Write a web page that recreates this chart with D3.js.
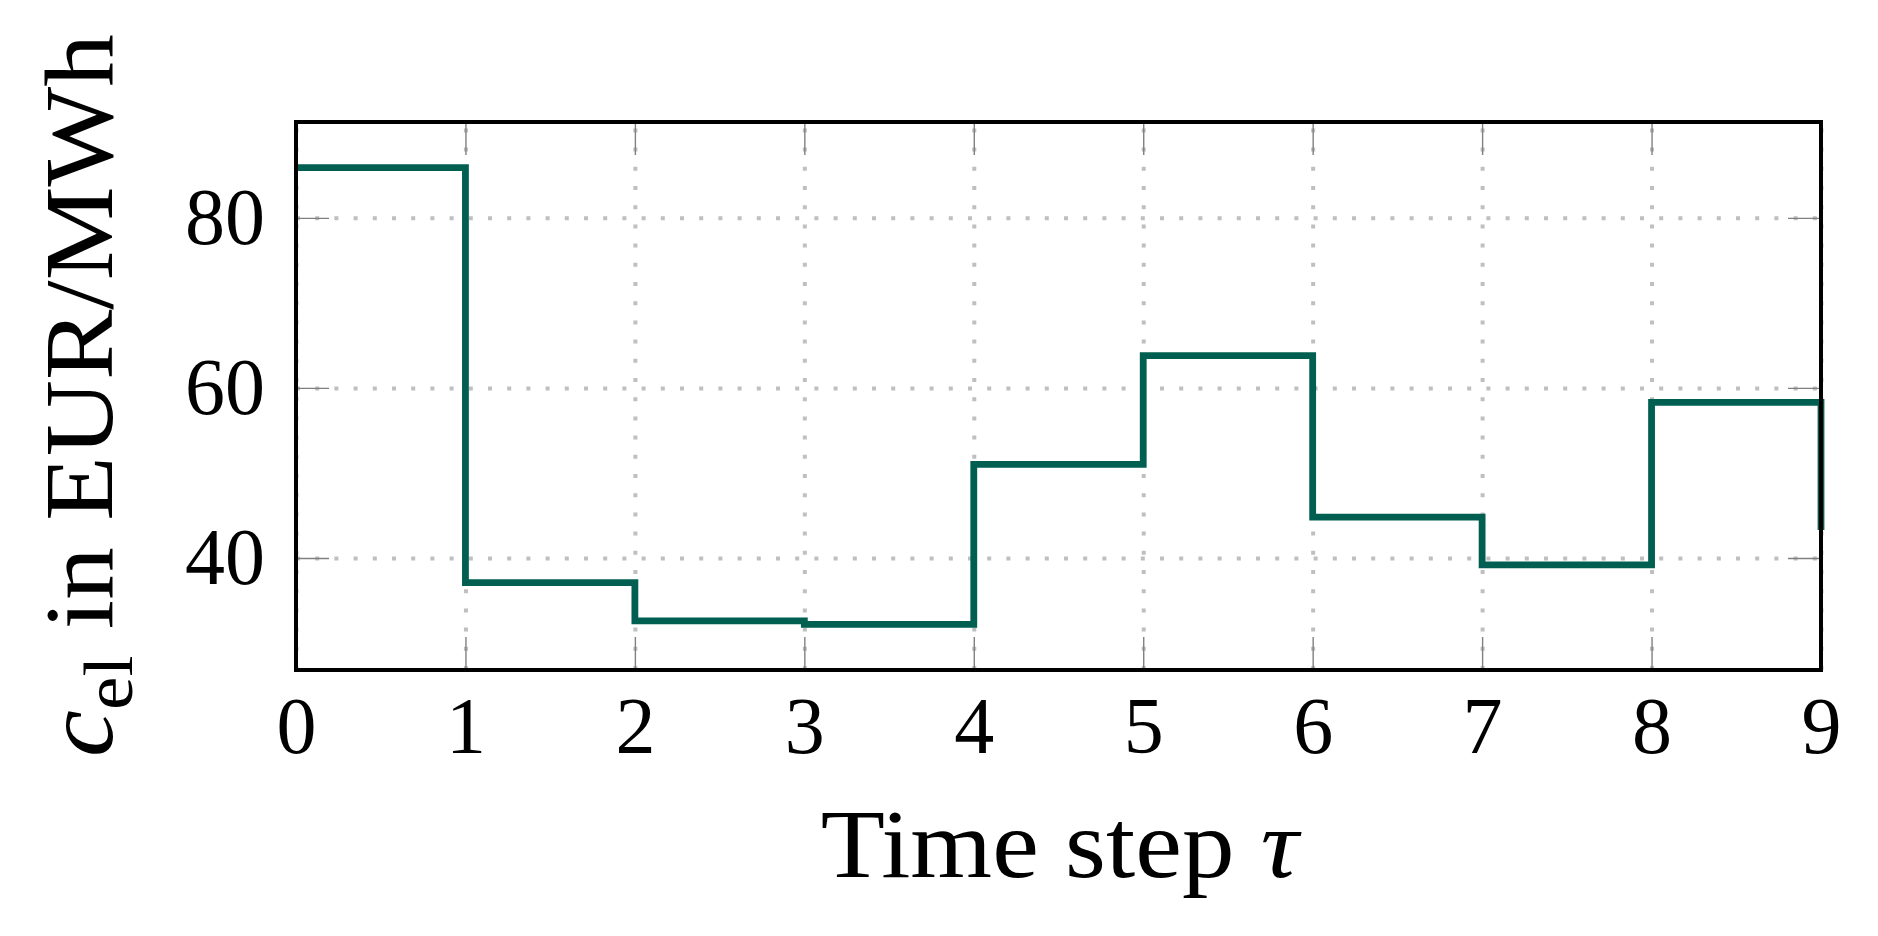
<!DOCTYPE html>
<html>
<head>
<meta charset="utf-8">
<script src="https://cdn.jsdelivr.net/npm/d3@7"></script>
<style>
  html, body { margin: 0; padding: 0; background: #fff; }
  svg { display: block; }
  text { font-family: "Liberation Serif", "Times New Roman", serif; fill: #000; }
</style>
</head>
<body>
<svg id="chart" width="1878" height="936"></svg>
<script>
// ---- data ----
const timeSteps = [0, 1, 2, 3, 4, 5, 6, 7, 8, 9];
const priceEl   = [85.9, 37.1, 32.6, 32.2, 51.0, 63.8, 44.8, 39.2, 58.3, 43.3];
const xTickValues = [0, 1, 2, 3, 4, 5, 6, 7, 8, 9];
const yTickValues = [40, 60, 80];
const xLabel = "Time step ";
const yLabelParts = ["c", "el", " in EUR/MWh"];

// ---- layout ----
const plot = { left: 296, right: 1821, top: 122, bottom: 670 };
const W = plot.right - plot.left, H = plot.bottom - plot.top;

const svg = d3.select("#chart");

const x = d3.scaleLinear().domain(d3.extent(timeSteps)).range([0, W]);
const [ymin, ymax] = d3.extent(priceEl);
const pad = (ymax - ymin) * 0.1;
const y = d3.scaleLinear().domain([ymin - pad, ymax + pad]).range([H, 0]);

const g = svg.append("g").attr("transform", `translate(${plot.left},${plot.top})`);

// grid
const gridStyle = sel => {
  sel.select(".domain").remove();
  sel.selectAll(".tick line")
    .attr("stroke", "#bfbfbf").attr("stroke-width", 4)
    .attr("stroke-dasharray", "4 15.2");
};
g.append("g").attr("transform", `translate(0,${H})`)
  .call(d3.axisBottom(x).tickValues(xTickValues).tickSize(-H).tickFormat(""))
  .call(gridStyle);
g.append("g")
  .call(d3.axisLeft(y).tickValues(yTickValues).tickSize(-W).tickFormat(""))
  .call(gridStyle);

// ticks (inside, all four sides)
const tickStyle = sel => {
  sel.select(".domain").remove();
  sel.selectAll(".tick line").attr("stroke", "#808080").attr("stroke-width", 1.4);
  sel.selectAll(".tick text").attr("font-size", 80).attr("fill", "#000")
     .attr("font-family", "Liberation Serif, serif");
};
const TL = 33;
g.append("g").attr("transform", `translate(0,${H})`)
  .call(d3.axisBottom(x).tickValues(xTickValues).tickSize(-TL).tickPadding(26).tickFormat(d3.format("d")))
  .call(tickStyle);
g.append("g")
  .call(d3.axisTop(x).tickValues(xTickValues).tickSize(-TL).tickFormat(""))
  .call(tickStyle);
g.append("g")
  .call(d3.axisLeft(y).tickValues(yTickValues).tickSize(-TL).tickPadding(31).tickFormat(d3.format("d")))
  .call(tickStyle);
g.append("g").attr("transform", `translate(${W},0)`)
  .call(d3.axisRight(y).tickValues(yTickValues).tickSize(-TL).tickFormat(""))
  .call(tickStyle);

// step line
const line = d3.line()
  .x((d, i) => x(timeSteps[i]))
  .y(d => y(d))
  .curve(d3.curveStepAfter);
g.append("path")
  .datum(priceEl)
  .attr("d", line)
  .attr("fill", "none")
  .attr("stroke", "#005f50")
  .attr("stroke-width", 6.8)
  .attr("stroke-linejoin", "miter")
  .attr("stroke-linecap", "butt");

// frame on top
g.append("rect")
  .attr("x", 0).attr("y", 0).attr("width", W).attr("height", H)
  .attr("fill", "none").attr("stroke", "#000").attr("stroke-width", 4);

// x label
const xl = svg.append("g").attr("transform", `translate(${(plot.left + plot.right) / 2 + 1},877)`);
const xt = xl.append("text").attr("text-anchor", "middle").attr("font-size", 98);
xt.append("tspan").text(xLabel);
xt.append("tspan").attr("font-style", "italic").text("τ");
{
  const w = xt.node().getBBox().width;
  xt.attr("transform", `scale(${482 / w},1)`);
}

// y label
const yl = svg.append("g").attr("transform", `translate(112,395.5) rotate(-90)`);
const yt = yl.append("text").attr("text-anchor", "middle").attr("font-size", 98);
yt.append("tspan").attr("font-style", "italic").text(yLabelParts[0]);
yt.append("tspan").attr("font-size", 70).attr("dy", 20).text(yLabelParts[1]);
yt.append("tspan").attr("dy", -20).text(yLabelParts[2]);
{
  const w = yt.node().getBBox().width;
  yt.attr("transform", `scale(${723 / w},1)`);
}
</script>
</body>
</html>
